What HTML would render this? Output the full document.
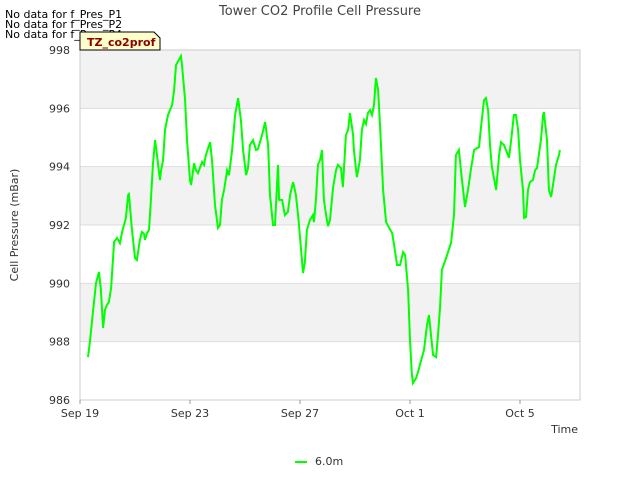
<!DOCTYPE html>
<html><head><meta charset="utf-8"><style>
body{margin:0;background:#fff;font-family:"Liberation Sans","DejaVu Sans",sans-serif;}
svg text{font-family:"DejaVu Sans","Liberation Sans",sans-serif;}
</style></head><body>
<svg id="chart" width="640" height="480" xmlns="http://www.w3.org/2000/svg">
<rect width="640" height="480" fill="#fff"/>
<g id="bands"></g>
<g id="grid"></g>
<rect x="80" y="50" width="500" height="350" fill="none" stroke="#ccc"/>
<g id="yticks" font-size="11" fill="#333"></g>
<g id="xticks" font-size="11" fill="#333"></g>
<path id="line" fill="none" stroke="#00ff00" stroke-width="2"/>
<text x="320" y="15" text-anchor="middle" font-size="13" fill="#444">Tower CO2 Profile Cell Pressure</text>
<text x="18" y="225" text-anchor="middle" font-size="11" fill="#333" transform="rotate(-90 18 225)">Cell Pressure (mBar)</text>
<text x="578" y="433" text-anchor="end" font-size="11" fill="#333">Time</text>
<text x="5" y="18" font-size="11" fill="#000">No data for f_Pres_P1</text>
<text x="5" y="28" font-size="11" fill="#000">No data for f_Pres_P2</text>
<text x="5" y="38" font-size="11" fill="#000">No data for f_Pres_P4</text>
<g>
<path d="M80,32 L154,32 L160,38 L160,50 L80,50 Z" fill="#ffffcc" stroke="#000"/>
<text x="87" y="46" font-size="11" font-weight="bold" fill="#8b0000">TZ_co2prof</text>
</g>
<g>
<line x1="295" y1="462" x2="307" y2="462" stroke="#00ff00" stroke-width="2"/>
<text x="315" y="465" font-size="11" fill="#333">6.0m</text>
</g>
</svg>
<script>
const days=[.29,.36,.44,.58,.69,.76,.84,.91,.98,1.05,1.13,1.24,1.35,1.45,1.53,1.67,1.75,1.78,1.89,2.00,2.07,2.18,2.25,2.33,2.36,2.44,2.51,2.58,2.65,2.73,2.80,2.84,2.91,2.95,3.02,3.09,3.20,3.27,3.35,3.42,3.49,3.67,3.71,3.82,3.89,4.00,4.04,4.15,4.22,4.29,4.44,4.51,4.58,4.73,4.80,4.91,5.02,5.09,5.16,5.24,5.35,5.42,5.53,5.64,5.75,5.85,5.93,6.04,6.11,6.18,6.29,6.40,6.47,6.62,6.73,6.84,6.91,7.02,7.09,7.20,7.24,7.35,7.45,7.56,7.64,7.75,7.85,7.93,8.04,8.11,8.18,8.25,8.36,8.47,8.51,8.58,8.65,8.73,8.80,8.87,8.95,9.02,9.09,9.20,9.31,9.38,9.49,9.56,9.67,9.75,9.82,9.93,9.96,10.07,10.18,10.25,10.33,10.40,10.47,10.55,10.62,10.69,10.76,10.84,10.91,11.02,11.13,11.24,11.35,11.42,11.53,11.64,11.75,11.82,11.93,12.00,12.07,12.11,12.22,12.29,12.40,12.51,12.62,12.69,12.76,12.84,12.95,13.02,13.09,13.16,13.35,13.49,13.60,13.67,13.78,13.89,14.00,14.11,14.22,14.33,14.44,14.51,14.58,14.69,14.76,14.84,14.91,14.98,15.13,15.24,15.31,15.42,15.49,15.60,15.67,15.78,15.85,15.93,16.00,16.11,16.15,16.22,16.29,16.36,16.47,16.55,16.62,16.76,16.84,16.87,16.98,17.05,17.13,17.20,17.31,17.42,17.45];
const pressure=[987.47,987.99,988.74,990.01,990.39,989.77,988.47,989.09,989.26,989.36,989.84,991.42,991.55,991.38,991.76,992.24,993.03,993.06,991.83,990.87,990.80,991.49,991.76,991.69,991.49,991.73,991.83,992.86,994.06,994.91,994.40,994.06,993.54,993.88,994.23,995.26,995.77,995.94,996.11,996.63,997.48,997.79,997.48,996.28,994.91,993.54,993.37,994.12,993.88,993.78,994.16,994.06,994.40,994.84,994.23,992.68,991.90,992.00,992.86,993.20,993.88,993.71,994.57,995.77,996.35,995.60,994.57,993.71,993.95,994.74,994.91,994.57,994.60,995.08,995.53,994.74,993.03,992.00,992.00,994.06,992.86,992.86,992.34,992.45,993.03,993.47,993.03,992.34,991.14,990.35,990.73,991.83,992.17,992.34,992.10,992.86,994.06,994.23,994.57,992.86,992.34,991.96,992.17,993.27,993.88,994.06,993.95,993.30,995.08,995.26,995.84,995.08,994.57,993.64,994.23,995.26,995.60,995.46,995.84,995.94,995.77,996.11,997.04,996.63,995.43,993.20,992.10,991.90,991.73,991.31,990.63,990.63,991.07,990.97,989.77,988.06,986.86,986.58,986.75,986.96,987.34,987.71,988.57,988.91,988.26,987.54,987.47,988.23,989.15,990.46,990.97,991.38,992.34,994.40,994.57,993.54,992.62,993.20,993.95,994.57,994.64,994.67,995.32,996.28,996.35,995.94,994.74,993.99,993.20,994.40,994.84,994.74,994.57,994.30,994.84,995.77,995.77,995.26,994.23,993.20,992.24,992.27,993.20,993.47,993.54,993.88,993.95,994.91,995.77,995.87,994.91,993.20,992.96,993.37,994.06,994.40,994.57];
const yTicks=[986,988,990,992,994,996,998];
const xTickDays=[0,4,8,12,16];
const xTickLabels=["Sep 19","Sep 23","Sep 27","Oct 1","Oct 5"];
const X0=80,X1=580,Y0=50,Y1=400,DMIN=0,DMAX=500/27.5,VMIN=986,VMAX=998;
const xs=d=>X0+(d-DMIN)/(DMAX-DMIN)*(X1-X0);
const ys=v=>Y1-(v-VMIN)/(VMAX-VMIN)*(Y1-Y0);
const NS="http://www.w3.org/2000/svg";
const mk=(t,a)=>{const e=document.createElementNS(NS,t);for(const k in a)e.setAttribute(k,a[k]);return e;};
const bands=document.getElementById('bands'),grid=document.getElementById('grid');
for(let i=0;i<yTicks.length-1;i++){
  if(i%2===1){const r=mk('rect',{x:X0,y:ys(yTicks[i+1]),width:X1-X0,height:ys(yTicks[i])-ys(yTicks[i+1]),fill:'#f2f2f2'});
  
  
  bands.appendChild(r);}
}
const yt=document.getElementById('yticks');
yTicks.forEach(v=>{
  const l=mk('line',{x1:X0,x2:X1,y1:ys(v),y2:ys(v),stroke:'#ddd'});
  
  
  grid.appendChild(l);
  const t=mk('text',{x:X0-10,y:ys(v)+4,'text-anchor':'end'});
  
  
  t.textContent=v;yt.appendChild(t);
});
const xt=document.getElementById('xticks');
xTickDays.forEach((d,i)=>{
  const l=mk('line',{x1:xs(d),x2:xs(d),y1:Y1,y2:Y1+4,stroke:'#999'});
  
  
  xt.appendChild(l);
  const t=mk('text',{x:xs(d),y:Y1+17,'text-anchor':'middle'});
  
  
  t.textContent=xTickLabels[i];xt.appendChild(t);
});
document.getElementById('line').setAttribute('d',days.map((d,i)=>(i?'L':'M')+xs(d).toFixed(1)+','+ys(pressure[i]).toFixed(1)).join(''));
</script>
</body></html>
